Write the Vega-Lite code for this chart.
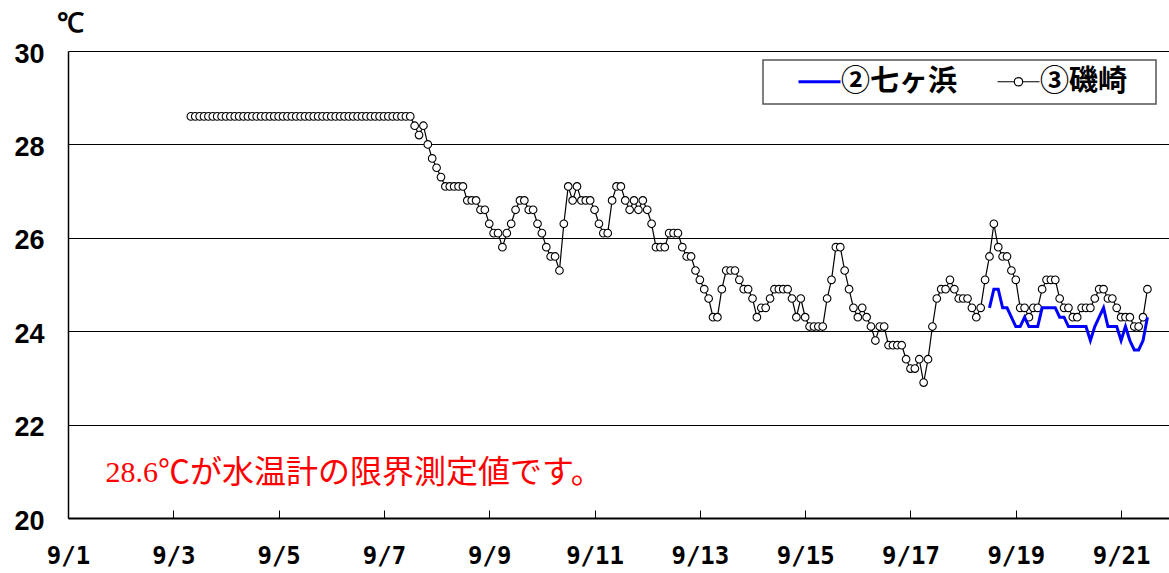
{
  "$schema": "https://vega.github.io/schema/vega-lite/v6.json",
  "width": 1101,
  "height": 467,
  "autosize": {"type": "none"},
  "padding": {"left": 68, "top": 51, "right": 0, "bottom": 55},
  "background": "white",
  "config": {
    "view": {"stroke": null},
    "axis": {"labelColor": "black", "titleColor": "black"},
    "legend": {"strokeWidth": 1.5}
  },
  "datasets": {
    "temps": [
      {"t":"2023-09-03T08:00","s":"③磯崎","v":28.6},{"t":"2023-09-03T10:00","s":"③磯崎","v":28.6},{"t":"2023-09-03T12:00","s":"③磯崎","v":28.6},{"t":"2023-09-03T14:00","s":"③磯崎","v":28.6},{"t":"2023-09-03T16:00","s":"③磯崎","v":28.6},{"t":"2023-09-03T18:00","s":"③磯崎","v":28.6},{"t":"2023-09-03T20:00","s":"③磯崎","v":28.6},{"t":"2023-09-03T22:00","s":"③磯崎","v":28.6},
      {"t":"2023-09-04T00:00","s":"③磯崎","v":28.6},{"t":"2023-09-04T02:00","s":"③磯崎","v":28.6},{"t":"2023-09-04T04:00","s":"③磯崎","v":28.6},{"t":"2023-09-04T06:00","s":"③磯崎","v":28.6},{"t":"2023-09-04T08:00","s":"③磯崎","v":28.6},{"t":"2023-09-04T10:00","s":"③磯崎","v":28.6},{"t":"2023-09-04T12:00","s":"③磯崎","v":28.6},{"t":"2023-09-04T14:00","s":"③磯崎","v":28.6},{"t":"2023-09-04T16:00","s":"③磯崎","v":28.6},{"t":"2023-09-04T18:00","s":"③磯崎","v":28.6},{"t":"2023-09-04T20:00","s":"③磯崎","v":28.6},{"t":"2023-09-04T22:00","s":"③磯崎","v":28.6},
      {"t":"2023-09-05T00:00","s":"③磯崎","v":28.6},{"t":"2023-09-05T02:00","s":"③磯崎","v":28.6},{"t":"2023-09-05T04:00","s":"③磯崎","v":28.6},{"t":"2023-09-05T06:00","s":"③磯崎","v":28.6},{"t":"2023-09-05T08:00","s":"③磯崎","v":28.6},{"t":"2023-09-05T10:00","s":"③磯崎","v":28.6},{"t":"2023-09-05T12:00","s":"③磯崎","v":28.6},{"t":"2023-09-05T14:00","s":"③磯崎","v":28.6},{"t":"2023-09-05T16:00","s":"③磯崎","v":28.6},{"t":"2023-09-05T18:00","s":"③磯崎","v":28.6},{"t":"2023-09-05T20:00","s":"③磯崎","v":28.6},{"t":"2023-09-05T22:00","s":"③磯崎","v":28.6},
      {"t":"2023-09-06T00:00","s":"③磯崎","v":28.6},{"t":"2023-09-06T02:00","s":"③磯崎","v":28.6},{"t":"2023-09-06T04:00","s":"③磯崎","v":28.6},{"t":"2023-09-06T06:00","s":"③磯崎","v":28.6},{"t":"2023-09-06T08:00","s":"③磯崎","v":28.6},{"t":"2023-09-06T10:00","s":"③磯崎","v":28.6},{"t":"2023-09-06T12:00","s":"③磯崎","v":28.6},{"t":"2023-09-06T14:00","s":"③磯崎","v":28.6},{"t":"2023-09-06T16:00","s":"③磯崎","v":28.6},{"t":"2023-09-06T18:00","s":"③磯崎","v":28.6},{"t":"2023-09-06T20:00","s":"③磯崎","v":28.6},{"t":"2023-09-06T22:00","s":"③磯崎","v":28.6},
      {"t":"2023-09-07T00:00","s":"③磯崎","v":28.6},{"t":"2023-09-07T02:00","s":"③磯崎","v":28.6},{"t":"2023-09-07T04:00","s":"③磯崎","v":28.6},{"t":"2023-09-07T06:00","s":"③磯崎","v":28.6},{"t":"2023-09-07T08:00","s":"③磯崎","v":28.6},{"t":"2023-09-07T10:00","s":"③磯崎","v":28.6},{"t":"2023-09-07T12:00","s":"③磯崎","v":28.6},{"t":"2023-09-07T14:00","s":"③磯崎","v":28.4},{"t":"2023-09-07T16:00","s":"③磯崎","v":28.2},{"t":"2023-09-07T18:00","s":"③磯崎","v":28.4},{"t":"2023-09-07T20:00","s":"③磯崎","v":28.0},{"t":"2023-09-07T22:00","s":"③磯崎","v":27.7},
      {"t":"2023-09-08T00:00","s":"③磯崎","v":27.5},{"t":"2023-09-08T02:00","s":"③磯崎","v":27.3},{"t":"2023-09-08T04:00","s":"③磯崎","v":27.1},{"t":"2023-09-08T06:00","s":"③磯崎","v":27.1},{"t":"2023-09-08T08:00","s":"③磯崎","v":27.1},{"t":"2023-09-08T10:00","s":"③磯崎","v":27.1},{"t":"2023-09-08T12:00","s":"③磯崎","v":27.1},{"t":"2023-09-08T14:00","s":"③磯崎","v":26.8},{"t":"2023-09-08T16:00","s":"③磯崎","v":26.8},{"t":"2023-09-08T18:00","s":"③磯崎","v":26.8},{"t":"2023-09-08T20:00","s":"③磯崎","v":26.6},{"t":"2023-09-08T22:00","s":"③磯崎","v":26.6},
      {"t":"2023-09-09T00:00","s":"③磯崎","v":26.3},{"t":"2023-09-09T02:00","s":"③磯崎","v":26.1},{"t":"2023-09-09T04:00","s":"③磯崎","v":26.1},{"t":"2023-09-09T06:00","s":"③磯崎","v":25.8},{"t":"2023-09-09T08:00","s":"③磯崎","v":26.1},{"t":"2023-09-09T10:00","s":"③磯崎","v":26.3},{"t":"2023-09-09T12:00","s":"③磯崎","v":26.6},{"t":"2023-09-09T14:00","s":"③磯崎","v":26.8},{"t":"2023-09-09T16:00","s":"③磯崎","v":26.8},{"t":"2023-09-09T18:00","s":"③磯崎","v":26.6},{"t":"2023-09-09T20:00","s":"③磯崎","v":26.6},{"t":"2023-09-09T22:00","s":"③磯崎","v":26.3},
      {"t":"2023-09-10T00:00","s":"③磯崎","v":26.1},{"t":"2023-09-10T02:00","s":"③磯崎","v":25.8},{"t":"2023-09-10T04:00","s":"③磯崎","v":25.6},{"t":"2023-09-10T06:00","s":"③磯崎","v":25.6},{"t":"2023-09-10T08:00","s":"③磯崎","v":25.3},{"t":"2023-09-10T10:00","s":"③磯崎","v":26.3},{"t":"2023-09-10T12:00","s":"③磯崎","v":27.1},{"t":"2023-09-10T14:00","s":"③磯崎","v":26.8},{"t":"2023-09-10T16:00","s":"③磯崎","v":27.1},{"t":"2023-09-10T18:00","s":"③磯崎","v":26.8},{"t":"2023-09-10T20:00","s":"③磯崎","v":26.8},{"t":"2023-09-10T22:00","s":"③磯崎","v":26.8},
      {"t":"2023-09-11T00:00","s":"③磯崎","v":26.6},{"t":"2023-09-11T02:00","s":"③磯崎","v":26.3},{"t":"2023-09-11T04:00","s":"③磯崎","v":26.1},{"t":"2023-09-11T06:00","s":"③磯崎","v":26.1},{"t":"2023-09-11T08:00","s":"③磯崎","v":26.8},{"t":"2023-09-11T10:00","s":"③磯崎","v":27.1},{"t":"2023-09-11T12:00","s":"③磯崎","v":27.1},{"t":"2023-09-11T14:00","s":"③磯崎","v":26.8},{"t":"2023-09-11T16:00","s":"③磯崎","v":26.6},{"t":"2023-09-11T18:00","s":"③磯崎","v":26.8},{"t":"2023-09-11T20:00","s":"③磯崎","v":26.6},{"t":"2023-09-11T22:00","s":"③磯崎","v":26.8},
      {"t":"2023-09-12T00:00","s":"③磯崎","v":26.6},{"t":"2023-09-12T02:00","s":"③磯崎","v":26.3},{"t":"2023-09-12T04:00","s":"③磯崎","v":25.8},{"t":"2023-09-12T06:00","s":"③磯崎","v":25.8},{"t":"2023-09-12T08:00","s":"③磯崎","v":25.8},{"t":"2023-09-12T10:00","s":"③磯崎","v":26.1},{"t":"2023-09-12T12:00","s":"③磯崎","v":26.1},{"t":"2023-09-12T14:00","s":"③磯崎","v":26.1},{"t":"2023-09-12T16:00","s":"③磯崎","v":25.8},{"t":"2023-09-12T18:00","s":"③磯崎","v":25.6},{"t":"2023-09-12T20:00","s":"③磯崎","v":25.6},{"t":"2023-09-12T22:00","s":"③磯崎","v":25.3},
      {"t":"2023-09-13T00:00","s":"③磯崎","v":25.1},{"t":"2023-09-13T02:00","s":"③磯崎","v":24.9},{"t":"2023-09-13T04:00","s":"③磯崎","v":24.7},{"t":"2023-09-13T06:00","s":"③磯崎","v":24.3},{"t":"2023-09-13T08:00","s":"③磯崎","v":24.3},{"t":"2023-09-13T10:00","s":"③磯崎","v":24.9},{"t":"2023-09-13T12:00","s":"③磯崎","v":25.3},{"t":"2023-09-13T14:00","s":"③磯崎","v":25.3},{"t":"2023-09-13T16:00","s":"③磯崎","v":25.3},{"t":"2023-09-13T18:00","s":"③磯崎","v":25.1},{"t":"2023-09-13T20:00","s":"③磯崎","v":24.9},{"t":"2023-09-13T22:00","s":"③磯崎","v":24.9},
      {"t":"2023-09-14T00:00","s":"③磯崎","v":24.7},{"t":"2023-09-14T02:00","s":"③磯崎","v":24.3},{"t":"2023-09-14T04:00","s":"③磯崎","v":24.5},{"t":"2023-09-14T06:00","s":"③磯崎","v":24.5},{"t":"2023-09-14T08:00","s":"③磯崎","v":24.7},{"t":"2023-09-14T10:00","s":"③磯崎","v":24.9},{"t":"2023-09-14T12:00","s":"③磯崎","v":24.9},{"t":"2023-09-14T14:00","s":"③磯崎","v":24.9},{"t":"2023-09-14T16:00","s":"③磯崎","v":24.9},{"t":"2023-09-14T18:00","s":"③磯崎","v":24.7},{"t":"2023-09-14T20:00","s":"③磯崎","v":24.3},{"t":"2023-09-14T22:00","s":"③磯崎","v":24.7},
      {"t":"2023-09-15T00:00","s":"③磯崎","v":24.3},{"t":"2023-09-15T02:00","s":"③磯崎","v":24.1},{"t":"2023-09-15T04:00","s":"③磯崎","v":24.1},{"t":"2023-09-15T06:00","s":"③磯崎","v":24.1},{"t":"2023-09-15T08:00","s":"③磯崎","v":24.1},{"t":"2023-09-15T10:00","s":"③磯崎","v":24.7},{"t":"2023-09-15T12:00","s":"③磯崎","v":25.1},{"t":"2023-09-15T14:00","s":"③磯崎","v":25.8},{"t":"2023-09-15T16:00","s":"③磯崎","v":25.8},{"t":"2023-09-15T18:00","s":"③磯崎","v":25.3},{"t":"2023-09-15T20:00","s":"③磯崎","v":24.9},{"t":"2023-09-15T22:00","s":"③磯崎","v":24.5},
      {"t":"2023-09-16T00:00","s":"③磯崎","v":24.3},{"t":"2023-09-16T02:00","s":"③磯崎","v":24.5},{"t":"2023-09-16T04:00","s":"③磯崎","v":24.3},{"t":"2023-09-16T06:00","s":"③磯崎","v":24.1},{"t":"2023-09-16T08:00","s":"③磯崎","v":23.8},{"t":"2023-09-16T10:00","s":"③磯崎","v":24.1},{"t":"2023-09-16T12:00","s":"③磯崎","v":24.1},{"t":"2023-09-16T14:00","s":"③磯崎","v":23.7},{"t":"2023-09-16T16:00","s":"③磯崎","v":23.7},{"t":"2023-09-16T18:00","s":"③磯崎","v":23.7},{"t":"2023-09-16T20:00","s":"③磯崎","v":23.7},{"t":"2023-09-16T22:00","s":"③磯崎","v":23.4},
      {"t":"2023-09-17T00:00","s":"③磯崎","v":23.2},{"t":"2023-09-17T02:00","s":"③磯崎","v":23.2},{"t":"2023-09-17T04:00","s":"③磯崎","v":23.4},{"t":"2023-09-17T06:00","s":"③磯崎","v":22.9},{"t":"2023-09-17T08:00","s":"③磯崎","v":23.4},{"t":"2023-09-17T10:00","s":"③磯崎","v":24.1},{"t":"2023-09-17T12:00","s":"③磯崎","v":24.7},{"t":"2023-09-17T14:00","s":"③磯崎","v":24.9},{"t":"2023-09-17T16:00","s":"③磯崎","v":24.9},{"t":"2023-09-17T18:00","s":"③磯崎","v":25.1},{"t":"2023-09-17T20:00","s":"③磯崎","v":24.9},{"t":"2023-09-17T22:00","s":"③磯崎","v":24.7},
      {"t":"2023-09-18T00:00","s":"③磯崎","v":24.7},{"t":"2023-09-18T02:00","s":"③磯崎","v":24.7},{"t":"2023-09-18T04:00","s":"③磯崎","v":24.5},{"t":"2023-09-18T06:00","s":"③磯崎","v":24.3},{"t":"2023-09-18T08:00","s":"③磯崎","v":24.5},{"t":"2023-09-18T10:00","s":"③磯崎","v":25.1},{"t":"2023-09-18T12:00","s":"③磯崎","v":25.6},{"t":"2023-09-18T14:00","s":"③磯崎","v":26.3},{"t":"2023-09-18T16:00","s":"③磯崎","v":25.8},{"t":"2023-09-18T18:00","s":"③磯崎","v":25.6},{"t":"2023-09-18T20:00","s":"③磯崎","v":25.6},{"t":"2023-09-18T22:00","s":"③磯崎","v":25.3},
      {"t":"2023-09-19T00:00","s":"③磯崎","v":25.1},{"t":"2023-09-19T02:00","s":"③磯崎","v":24.5},{"t":"2023-09-19T04:00","s":"③磯崎","v":24.5},{"t":"2023-09-19T06:00","s":"③磯崎","v":24.3},{"t":"2023-09-19T08:00","s":"③磯崎","v":24.5},{"t":"2023-09-19T10:00","s":"③磯崎","v":24.5},{"t":"2023-09-19T12:00","s":"③磯崎","v":24.9},{"t":"2023-09-19T14:00","s":"③磯崎","v":25.1},{"t":"2023-09-19T16:00","s":"③磯崎","v":25.1},{"t":"2023-09-19T18:00","s":"③磯崎","v":25.1},{"t":"2023-09-19T20:00","s":"③磯崎","v":24.7},{"t":"2023-09-19T22:00","s":"③磯崎","v":24.5},
      {"t":"2023-09-20T00:00","s":"③磯崎","v":24.5},{"t":"2023-09-20T02:00","s":"③磯崎","v":24.3},{"t":"2023-09-20T04:00","s":"③磯崎","v":24.3},{"t":"2023-09-20T06:00","s":"③磯崎","v":24.5},{"t":"2023-09-20T08:00","s":"③磯崎","v":24.5},{"t":"2023-09-20T10:00","s":"③磯崎","v":24.5},{"t":"2023-09-20T12:00","s":"③磯崎","v":24.7},{"t":"2023-09-20T14:00","s":"③磯崎","v":24.9},{"t":"2023-09-20T16:00","s":"③磯崎","v":24.9},{"t":"2023-09-20T18:00","s":"③磯崎","v":24.7},{"t":"2023-09-20T20:00","s":"③磯崎","v":24.7},{"t":"2023-09-20T22:00","s":"③磯崎","v":24.5},
      {"t":"2023-09-21T00:00","s":"③磯崎","v":24.3},{"t":"2023-09-21T02:00","s":"③磯崎","v":24.3},{"t":"2023-09-21T04:00","s":"③磯崎","v":24.3},{"t":"2023-09-21T06:00","s":"③磯崎","v":24.1},{"t":"2023-09-21T08:00","s":"③磯崎","v":24.1},{"t":"2023-09-21T10:00","s":"③磯崎","v":24.3},{"t":"2023-09-21T12:00","s":"③磯崎","v":24.9},
      {"t":"2023-09-18T12:00","s":"②七ヶ浜","v":24.5},{"t":"2023-09-18T14:00","s":"②七ヶ浜","v":24.9},{"t":"2023-09-18T16:00","s":"②七ヶ浜","v":24.9},{"t":"2023-09-18T18:00","s":"②七ヶ浜","v":24.5},{"t":"2023-09-18T20:00","s":"②七ヶ浜","v":24.5},{"t":"2023-09-18T22:00","s":"②七ヶ浜","v":24.3},
      {"t":"2023-09-19T00:00","s":"②七ヶ浜","v":24.1},{"t":"2023-09-19T02:00","s":"②七ヶ浜","v":24.1},{"t":"2023-09-19T04:00","s":"②七ヶ浜","v":24.3},{"t":"2023-09-19T06:00","s":"②七ヶ浜","v":24.1},{"t":"2023-09-19T08:00","s":"②七ヶ浜","v":24.1},{"t":"2023-09-19T10:00","s":"②七ヶ浜","v":24.1},{"t":"2023-09-19T12:00","s":"②七ヶ浜","v":24.5},{"t":"2023-09-19T14:00","s":"②七ヶ浜","v":24.5},{"t":"2023-09-19T16:00","s":"②七ヶ浜","v":24.5},{"t":"2023-09-19T18:00","s":"②七ヶ浜","v":24.5},{"t":"2023-09-19T20:00","s":"②七ヶ浜","v":24.3},{"t":"2023-09-19T22:00","s":"②七ヶ浜","v":24.3},
      {"t":"2023-09-20T00:00","s":"②七ヶ浜","v":24.1},{"t":"2023-09-20T02:00","s":"②七ヶ浜","v":24.1},{"t":"2023-09-20T04:00","s":"②七ヶ浜","v":24.1},{"t":"2023-09-20T06:00","s":"②七ヶ浜","v":24.1},{"t":"2023-09-20T08:00","s":"②七ヶ浜","v":24.1},{"t":"2023-09-20T10:00","s":"②七ヶ浜","v":23.8},{"t":"2023-09-20T12:00","s":"②七ヶ浜","v":24.1},{"t":"2023-09-20T14:00","s":"②七ヶ浜","v":24.3},{"t":"2023-09-20T16:00","s":"②七ヶ浜","v":24.5},{"t":"2023-09-20T18:00","s":"②七ヶ浜","v":24.1},{"t":"2023-09-20T20:00","s":"②七ヶ浜","v":24.1},{"t":"2023-09-20T22:00","s":"②七ヶ浜","v":24.1},
      {"t":"2023-09-21T00:00","s":"②七ヶ浜","v":23.8},{"t":"2023-09-21T02:00","s":"②七ヶ浜","v":24.1},{"t":"2023-09-21T04:00","s":"②七ヶ浜","v":23.8},{"t":"2023-09-21T06:00","s":"②七ヶ浜","v":23.6},{"t":"2023-09-21T08:00","s":"②七ヶ浜","v":23.6},{"t":"2023-09-21T10:00","s":"②七ヶ浜","v":23.8},{"t":"2023-09-21T12:00","s":"②七ヶ浜","v":24.3}
    ],
    "note": [
      {"t":"2023-09-02T17:00","v":20.97,"a":"28.6","b":"℃が水温計の限界測定値です。"}
    ]
  },
  "encoding": {
    "x": {
      "field": "t", "type": "temporal",
      "scale": {"domain": [{"year":2023,"month":9,"date":1,"hours":0}, {"year":2023,"month":9,"date":21,"hours":21,"minutes":50}], "nice": false},
      "axis": {
        "values": [
          {"year":2023,"month":9,"date":1},{"year":2023,"month":9,"date":3},{"year":2023,"month":9,"date":5},{"year":2023,"month":9,"date":7},{"year":2023,"month":9,"date":9},{"year":2023,"month":9,"date":11},{"year":2023,"month":9,"date":13},{"year":2023,"month":9,"date":15},{"year":2023,"month":9,"date":17},{"year":2023,"month":9,"date":19},{"year":2023,"month":9,"date":21}
        ],
        "format": "%-m/%-d",
        "title": null,
        "grid": false,
        "ticks": true,
        "tickSize": -8,
        "tickColor": "black",
        "tickWidth": 1,
        "domainColor": "black",
        "domainWidth": 2,
        "labelFont": "DejaVu Sans Mono",
        "labelFontWeight": "bold",
        "labelFontSize": 24,
        "labelPadding": 34,
        "labelFlush": false,
        "labelOverlap": false
      }
    },
    "y": {
      "field": "v", "type": "quantitative",
      "scale": {"domain": [20, 30], "nice": false, "zero": false},
      "axis": {
        "values": [20, 22, 24, 26, 28, 30],
        "grid": true,
        "gridColor": "black",
        "gridWidth": 1,
        "gridOpacity": 1,
        "ticks": false,
        "domainColor": "black",
        "domainWidth": 1.5,
        "labelFont": "Liberation Sans",
        "labelFontWeight": "bold",
        "labelFontSize": 27,
        "labelPadding": 24,
        "labelBaseline": "middle",
        "labelOffset": 3,
        "title": "℃",
        "titleAngle": 0,
        "titleX": 2,
        "titleY": -28,
        "titleAlign": "center",
        "titleBaseline": "middle",
        "titleFont": "Liberation Sans",
        "titleFontWeight": "bold",
        "titleFontSize": 27
      }
    }
  },
  "layer": [
    {
      "data": {"name": "temps"},
      "transform": [{"filter": "datum.s === '③磯崎'"}],
      "mark": {"type": "line", "strokeWidth": 1.2},
      "encoding": {
        "color": {
          "field": "s", "type": "nominal",
          "scale": {"domain": ["②七ヶ浜", "③磯崎"], "range": ["#0000FF", "#000000"]},
          "legend": {
            "title": "⠀",
            "titleOrient": "left",
            "titleFont": "DejaVu Sans",
            "titleFontSize": 14,
            "titlePadding": 4,
            "titleColor": "white",
            "orient": "none",
            "legendX": 695,
            "legendY": 9,
            "direction": "horizontal",
            "fillColor": "white",
            "strokeColor": "#555555",
            "padding": 7,
            "symbolOffset": 20,
            "symbolSize": 1764,
            "labelOffset": 7,
            "columnPadding": 26,
            "labelFont": "Noto Sans CJK JP",
            "labelFontWeight": "bold",
            "labelFontSize": 29,
            "labelColor": "black",
            "labelLimit": 300,
            "labelExpr": "datum.value === '③磯崎' ? datum.label + '⠀' : datum.label",
            "encode": {
              "symbols": {
                "update": {
                  "shape": {"signal": "datum.value === '③磯崎' ? 'M-1,0L-0.2,0M0.2,0L1,0M-0.2,0A0.2,0.2,0,1,1,0.2,0A0.2,0.2,0,1,1,-0.2,0Z' : 'stroke'"},
                  "strokeWidth": {"signal": "datum.value === '③磯崎' ? 1.2 : 3"},
                  "fill": {"value": "white"},
                  "fillOpacity": {"value": 1}
                }
              }
            }
          }
        }
      }
    },
    {
      "data": {"name": "temps"},
      "transform": [{"filter": "datum.s === '③磯崎'"}],
      "mark": {"type": "point", "shape": "circle", "filled": true, "fill": "white", "stroke": "black", "strokeWidth": 1.1, "size": 58, "opacity": 1}
    },
    {
      "data": {"name": "temps"},
      "transform": [{"filter": "datum.s === '②七ヶ浜'"}],
      "mark": {"type": "line", "strokeWidth": 3},
      "encoding": {
        "color": {"field": "s", "type": "nominal"}
      }
    },
    {
      "data": {"name": "note"},
      "mark": {"type": "text", "align": "right", "baseline": "middle", "font": "Liberation Serif", "fontSize": 30, "color": "#FF0000"},
      "encoding": {"text": {"field": "a"}}
    },
    {
      "data": {"name": "note"},
      "mark": {"type": "text", "align": "left", "baseline": "middle", "font": "Noto Sans CJK JP", "fontSize": 32, "color": "#FF0000"},
      "encoding": {"text": {"field": "b"}}
    }
  ]
}
